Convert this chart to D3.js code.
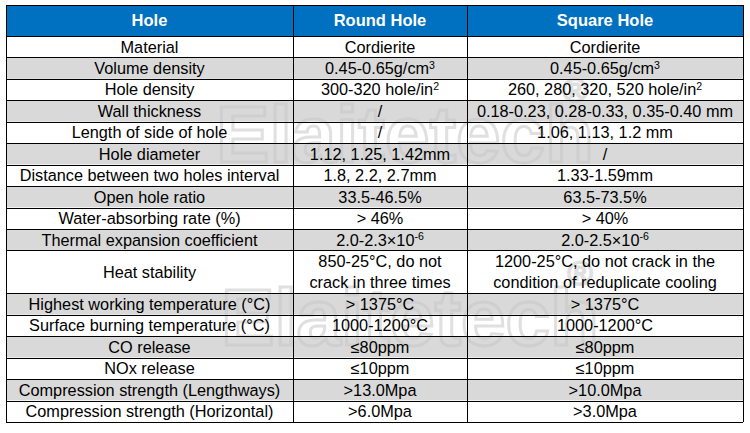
<!DOCTYPE html><html><head><meta charset="utf-8"><script src="https://cdn.jsdelivr.net/npm/d3@7"></script>
<style>body{margin:0;background:#fff}</style></head><body><svg id="c" width="750" height="433"></svg>
<script>
const headers=["Hole","Round Hole","Square Hole"];
const properties=["Material","Volume density","Hole density","Wall thickness","Length of side of hole","Hole diameter","Distance between two holes interval","Open hole ratio","Water-absorbing rate (%)","Thermal expansion coefficient","Heat stability","Highest working temperature (°C)","Surface burning temperature (°C)","CO release","NOx release","Compression strength (Lengthways)","Compression strength (Horizontal)"];
// "^" marks superscript, "|" marks line break
const roundHole=["Cordierite","0.45-0.65g/cm^3","300-320 hole/in^2","/","/","1.12, 1.25, 1.42mm","1.8, 2.2, 2.7mm","33.5-46.5%","> 46%","2.0-2.3×10^-6","850-25°C, do not|crack in three times","> 1375°C","1000-1200°C","≤80ppm","≤10ppm",">13.0Mpa",">6.0Mpa"];
const squareHole=["Cordierite","0.45-0.65g/cm^3","260, 280, 320, 520 hole/in^2","0.18-0.23, 0.28-0.33, 0.35-0.40 mm","1.06, 1.13, 1.2 mm","/","1.33-1.59mm","63.5-73.5%","> 40%","2.0-2.5×10^-6","1200-25°C, do not crack in the|condition of reduplicate cooling","> 1375°C","1000-1200°C","≤80ppm","≤10ppm",">10.0Mpa",">3.0Mpa"];
const rowUnits=properties.map(p=>p==="Heat stability"?2:1);

(function(){
const svg=d3.select("#c");
const left=6,right=743,topY=5,headH=31,bottom=422;
const x=d3.scaleOrdinal().domain([0,1,2,3]).range([left,293,467,right]);
const total=d3.sum(rowUnits);
const u=d3.scaleLinear().domain([0,total]).range([topY+headH,bottom]);
let cum=0;const rows=properties.map((p,i)=>{const r={i,p,y0:u(cum),y1:u(cum+rowUnits[i]),vals:[p,roundHole[i],squareHole[i]]};cum+=rowUnits[i];return r;});

const g=svg.append("g");
g.selectAll("rect").data(rows).join("rect").attr("x",left).attr("y",d=>d.y0).attr("width",right-left).attr("height",d=>d.y1-d.y0).attr("fill",d=>d.i%2?"#d9d9d9":"#fff");

[[405,162],[410,345]].forEach(([cx,cy])=>{
 svg.append("text").attr("x",cx).attr("y",cy).attr("text-anchor","middle").attr("font-family","Liberation Sans, Arial").attr("font-weight","bold").attr("font-size",80).attr("fill","none").attr("stroke","#c8c8c8").attr("stroke-width",3).attr("opacity",0.55).text("Elaitetech");
 svg.append("text").attr("x",cx+170).attr("y",cy-60).attr("text-anchor","middle").attr("font-family","Liberation Sans, Arial").attr("font-size",34).attr("fill","none").attr("stroke","#c8c8c8").attr("stroke-width",2).attr("opacity",0.55).text("®");
});

svg.append("rect").attr("x",left).attr("y",topY).attr("width",right-left).attr("height",headH).attr("fill","#0070c0");

function addText(sel,str,cx,cy,opts){
 const lines=str.split("|");const lh=21;
 lines.forEach((ln,k)=>{
  const t=sel.append("text").attr("x",cx).attr("y",cy+(k-(lines.length-1)/2)*lh).attr("dy","0.36em").attr("text-anchor","middle")
   .attr("font-family","Liberation Sans, Arial, sans-serif").attr("font-size",opts.size).attr("font-weight",opts.bold?"bold":"normal").attr("fill",opts.color);
  const parts=ln.split("^");
  t.append("tspan").text(parts[0]);
  if(parts[1]) t.append("tspan").attr("font-size",opts.size*0.65).attr("dy","-0.5em").text(parts[1]);
 });
}
headers.forEach((h,j)=>addText(svg,h,(x(j)+x(j+1))/2,topY+headH/2,{size:16.5,bold:true,color:"#fff"}));
rows.forEach(r=>r.vals.forEach((v,j)=>addText(svg,v,(x(j)+x(j+1))/2,(r.y0+r.y1)/2,{size:16.3,color:"#000"})));

const lines=svg.append("g").attr("stroke","#000").attr("stroke-width",1).attr("shape-rendering","crispEdges");
[topY+headH,...rows.map(r=>r.y1)].forEach(y=>lines.append("line").attr("x1",left).attr("x2",right).attr("y1",Math.round(y)+0.5).attr("y2",Math.round(y)+0.5));
lines.append("line").attr("x1",left).attr("x2",right).attr("y1",topY+0.5).attr("y2",topY+0.5);
[0,1,2,3].forEach(j=>lines.append("line").attr("x1",x(j)+0.5).attr("x2",x(j)+0.5).attr("y1",topY).attr("y2",bottom));
})();
</script></body></html>
